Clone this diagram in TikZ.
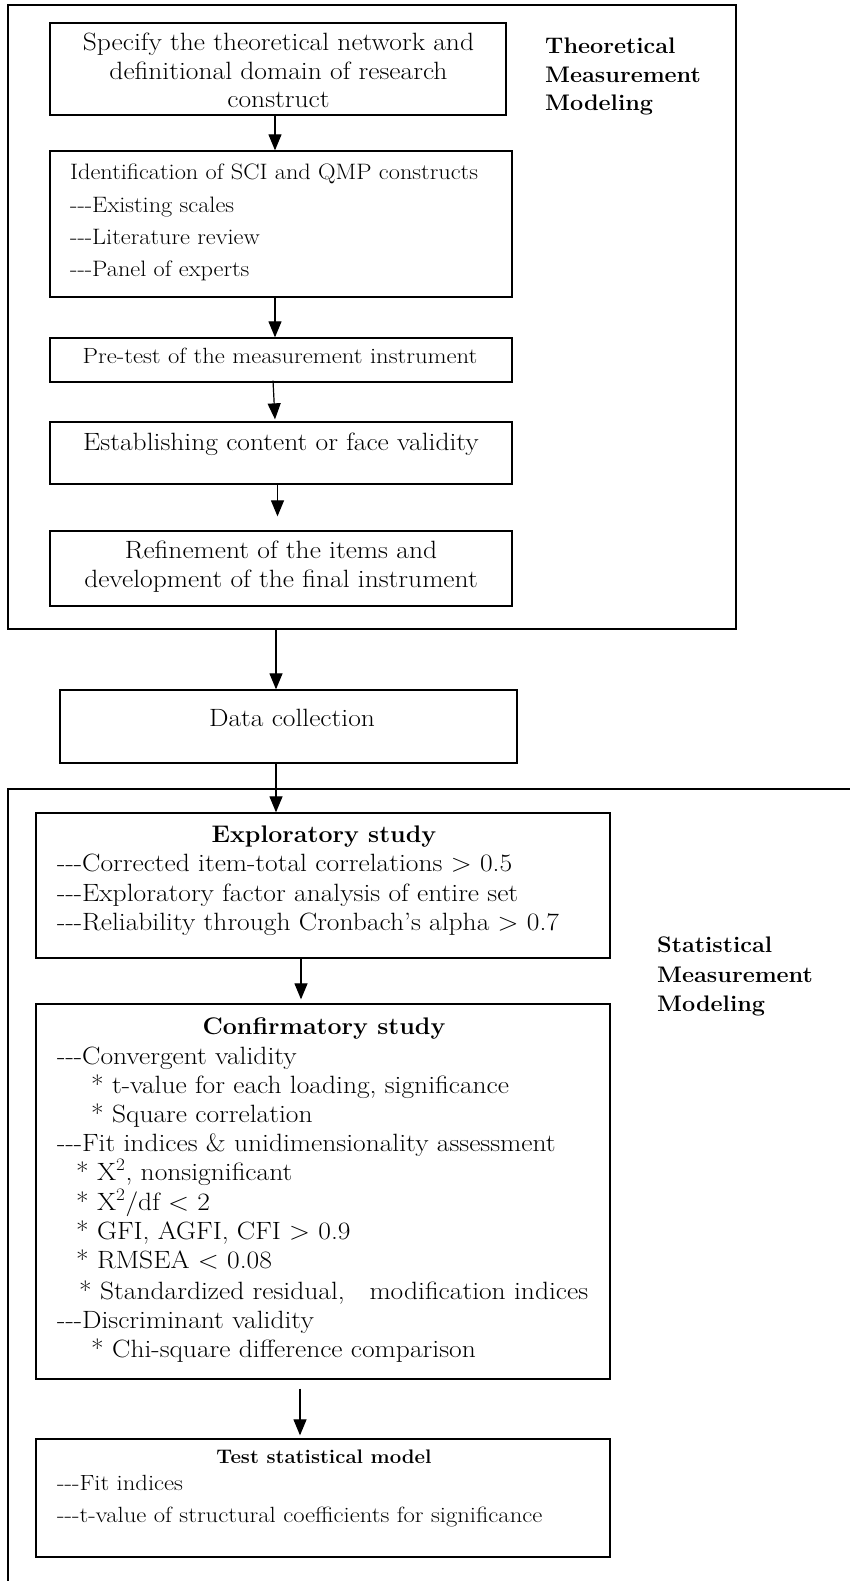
\documentclass[tikz,border=0pt]{standalone}
\usetikzlibrary{arrows.meta,fit}
\begin{document}
\begin{tikzpicture}[x=1pt,y=-1pt,
  box/.style={draw, line width=1.3pt, inner sep=0pt},
  frame/.style={draw, line width=2pt, inner sep=0pt},
  arr/.style={line width=1.2pt, -{Triangle[length=16pt,width=13pt]}},
  big/.style={inner sep=0pt, xscale=1.1, font=\fontsize{25}{28}\selectfont},
  mid/.style={inner sep=0pt, xscale=1.09, font=\fontsize{22.3}{26}\selectfont},
  small/.style={inner sep=0pt, xscale=1.12, font=\fontsize{22}{26}\selectfont},
  ttl/.style={inner sep=0pt, xscale=1.04, font=\bfseries\fontsize{24}{28}\selectfont},
  sttl/.style={inner sep=0pt, xscale=1.04, font=\bfseries\fontsize{19.6}{24}\selectfont},
  lab/.style={inner sep=0pt, xscale=1.04, font=\bfseries\fontsize{22.5}{27}\selectfont}]
\useasboundingbox (0,0) rectangle (850,1581);
\fill[white] (0,0) rectangle (850,1581);

% frames
\node[frame, fit={(8,5) (736,629)}] (outer1) {};
\draw[frame] (850,789) -- (8,789) -- (8,1581);

% boxes
\node[box, fit={(50,23) (506,115)}] (b1) {};
\node[box, fit={(50,151) (512,297)}] (b2) {};
\node[box, fit={(50,338) (512,382)}] (b3) {};
\node[box, fit={(50,422) (512,484)}] (b4) {};
\node[box, fit={(50,531) (512,606)}] (b5) {};
\node[box, fit={(60,690) (517,763)}] (b6) {};
\node[box, fit={(36,813) (610,958)}] (b7) {};
\node[box, fit={(36,1004) (610,1379)}] (b8) {};
\node[box, fit={(36,1439) (610,1557)}] (b9) {};

% arrows (canvas yshift: positive = upwards)
\draw[arr] ([xshift=-3pt]b1.south) -- ([xshift=-6pt]b2.north);
\draw[arr] ([xshift=-6pt]b2.south) -- ([xshift=-6pt]b3.north);
\draw[arr] ([xshift=-8pt,yshift=2pt]b3.south) -- ([xshift=-6pt,yshift=2pt]b4.north);
\draw[arr] ([xshift=-3.5pt]b4.south) -- ([xshift=-3.5pt,yshift=14pt]b5.north);
\draw[arr] ([xshift=-96pt]outer1.south) -- ([xshift=-12.5pt]b6.north);
\draw[arr] ([xshift=-12.5pt]b6.south) -- ([xshift=-47pt]b7.north);
\draw[arr] ([xshift=-22pt]b7.south) -- ([xshift=-22pt,yshift=4pt]b8.north);
\draw[arr] ([xshift=-23pt,yshift=-9pt]b8.south) -- ([xshift=-23pt,yshift=3pt]b9.north);

% box 1
\node[big, anchor=base] (t1a) at (278.5,51) {Specify the theoretical network and};
\node[big, anchor=base] (t1b) at (278.5,80) {definitional domain of research};
\node[big, anchor=base] (t1c) at (278.5,108) {construct};
% box 2
\node[mid, anchor=base west] (t2a) at (70,180) {Identification of SCI and QMP constructs};
\node[mid, anchor=base west] (t2b) at (70,212) {-{}-{}-Existing scales};
\node[mid, anchor=base west] (t2c) at (70,244) {-{}-{}-Literature review};
\node[mid, anchor=base west] (t2d) at (70,276) {-{}-{}-Panel of experts};
% box 3-6
\node[small, anchor=base] (t3) at (280,363) {Pre-test of the measurement instrument};
\node[big, anchor=base] (t4) at (281,450) {Establishing content or face validity};
\node[big, anchor=base] (t5a) at (281,558) {Refinement of the items and};
\node[big, anchor=base] (t5b) at (281,587) {development of the final instrument};
\node[big, anchor=base] (t6) at (292,726) {Data collection};

% labels
\node[lab, anchor=base west] (l1a) at (545,54) {Theoretical};
\node[lab, anchor=base west] (l1b) at (545,83) {Measurement};
\node[lab, anchor=base west] (l1c) at (545,111) {Modeling};
\node[lab, anchor=base west] (l2a) at (657,952) {Statistical};
\node[lab, anchor=base west] (l2b) at (657,982) {Measurement};
\node[lab, anchor=base west] (l2c) at (657,1011) {Modeling};

% box 7
\node[ttl, anchor=base] (t7) at (324,842) {Exploratory study};
\node[big, anchor=base west] (t7a) at (57,871) {-{}-{}-Corrected item-total correlations > 0.5};
\node[big, anchor=base west] (t7b) at (57,901) {-{}-{}-Exploratory factor analysis of entire set};
\node[big, anchor=base west] (t7c) at (57,930) {-{}-{}-Reliability through Cronbach’s alpha > 0.7};

% box 8
\node[ttl, anchor=base] (t8) at (324,1034) {Confirmatory study};
\foreach \yy/\xx/\tt [count=\i] in {
  1064/57/{-{}-{}-Convergent validity},
  1093/91/{* t-value for each loading, significance},
  1122/91/{* Square correlation},
  1151/57/{-{}-{}-Fit indices \& unidimensionality assessment},
  1180/76/{* X\textsuperscript{2}, nonsignificant},
  1210/76/{* X\textsuperscript{2}/df < 2},
  1239/76/{* GFI, AGFI, CFI > 0.9},
  1268/76/{* RMSEA < 0.08},
  1299/79/{* Standardized residual,\hspace{0.9em}modification indices},
  1328/57/{-{}-{}-Discriminant validity},
  1357/91/{* Chi-square difference comparison}}
  \node[big, anchor=base west] (c\i) at (\xx,\yy) {\tt};

% box 9
\node[sttl, anchor=base] (t9) at (324,1463) {Test statistical model};
\node[small, anchor=base west] (t9a) at (57,1490) {-{}-{}-Fit indices};
\node[small, anchor=base west] (t9b) at (57,1522) {-{}-{}-t-value of structural coefficients for significance};
\end{tikzpicture}
\end{document}
